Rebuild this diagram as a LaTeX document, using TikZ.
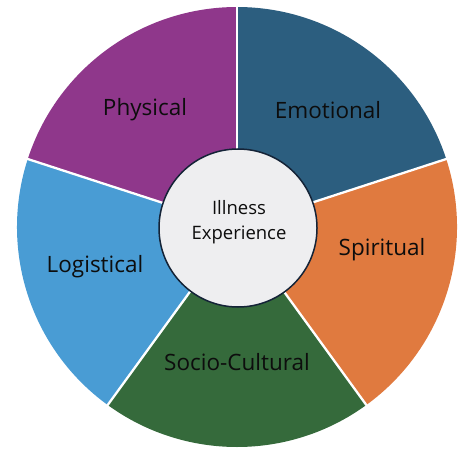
\documentclass[tikz,border=0pt]{standalone}
\usepackage{fontspec}
\setmainfont{Open Sans}

\begin{document}
\begin{tikzpicture}[x=1pt,y=1pt,
  label/.style={text=black!95, font=\fontsize{22.5}{27}\selectfont},
  corecircle/.style={circle, draw=coreedge, fill=corefill, line width=1.5pt, minimum size=158pt, inner sep=0pt}]

\definecolor{physpurple}{RGB}{143, 55, 139}
\definecolor{emoblue}{RGB}{44, 94, 127}
\definecolor{spirorange}{RGB}{224, 122, 63}
\definecolor{sociogreen}{RGB}{53, 106, 59}
\definecolor{logiblue}{RGB}{73, 156, 212}
\definecolor{corefill}{RGB}{238, 238, 240}
\definecolor{coreedge}{RGB}{20, 35, 55}

% Page size
\useasboundingbox (0,0) rectangle (470,461);

\coordinate (c) at (237,234);

% Five sectors
\fill[emoblue] (c) -- ++(18:220) arc[start angle=18, end angle=90, radius=220] -- cycle;
\fill[spirorange] (c) -- ++(-54:220) arc[start angle=-54, end angle=18, radius=220] -- cycle;
\fill[sociogreen] (c) -- ++(-126:220) arc[start angle=-126, end angle=-54, radius=220] -- cycle;
\fill[logiblue] (c) -- ++(162:220) arc[start angle=162, end angle=234, radius=220] -- cycle;
\fill[physpurple] (c) -- ++(90:220) arc[start angle=90, end angle=162, radius=220] -- cycle;

% White gaps between sectors
\foreach \a in {90,18,-54,-126,162}
  \draw[white, line width=2.3pt] (c) -- ++(\a:221);

% Sector labels
\node[label] (phys) at (145,351) {Physical};
\node[label] (emo) at (328,351) {Emotional};
\node[label] (logi) at (95,194) {Logistical};
\node[label] (spir) at (382,211) {Spiritual};
\node[label] (socio) at (237,99) {Socio-Cultural};

% Centre
\node[corecircle] (core) at (238,233) {};
\node[align=center, text=black!95, font=\fontsize{18.5}{25}\selectfont] (illness) at (239,239) {Illness\\Experience};

\end{tikzpicture}
\end{document}
